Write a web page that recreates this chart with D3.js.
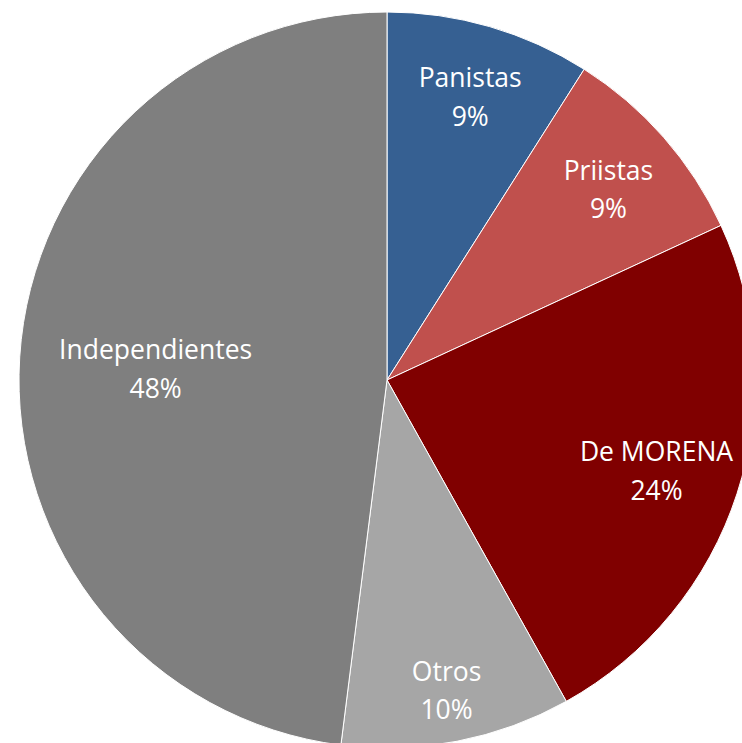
<!DOCTYPE html>
<html>
<head>
<meta charset="utf-8">
<script src="https://cdn.jsdelivr.net/npm/d3@7"></script>
<style>
  html, body { margin: 0; padding: 0; background: #fff; }
  svg { display: block; }
</style>
</head>
<body>
<div id="chart"></div>
<script>
// Data
const categories = ["Panistas", "Priistas", "De MORENA", "Otros", "Independientes"];
const values = [9.0, 9.1, 23.8, 10.1, 48.0];
const labels = ["9%", "9%", "24%", "10%", "48%"];
const colors = ["#366092", "#C0504D", "#800000", "#A6A6A6", "#7F7F7F"];

const width = 742;
const height = 743;
const cx = 387, cy = 380, radius = 368;

// label distance from centre, as share of the radius (Excel "best fit")
const labelRatio = [0.81, 0.80, 0.77, 0.85, 0.63];

const data = categories.map((c, i) => ({ name: c, value: values[i], label: labels[i], color: colors[i], lr: labelRatio[i] }));

const svg = d3.select("#chart").append("svg")
    .attr("width", width)
    .attr("height", height);

const g = svg.append("g").attr("transform", `translate(${cx},${cy})`);

const pie = d3.pie().value(d => d.value).sort(null);
const arc = d3.arc().innerRadius(0).outerRadius(radius);

const arcs = pie(data);

g.selectAll("path")
    .data(arcs)
    .enter()
    .append("path")
    .attr("d", arc)
    .attr("fill", d => d.data.color)
    .attr("stroke", "#fff")
    .attr("stroke-width", 1);

// Labels
const lab = g.selectAll("text")
    .data(arcs)
    .enter()
    .append("text")
    .attr("text-anchor", "middle")
    .attr("fill", "#fff")
    .style("font-family", "'Open Sans', 'Noto Sans', sans-serif")
    .style("font-size", "26.5px")
    .attr("transform", d => {
        const a = (d.startAngle + d.endAngle) / 2;
        const r = radius * d.data.lr;
        return `translate(${r * Math.sin(a)},${-r * Math.cos(a)})`;
    });

lab.append("tspan")
    .attr("x", 0)
    .attr("dy", "-0.24em")
    .text(d => d.data.name);

lab.append("tspan")
    .attr("x", 0)
    .attr("dy", "1.45em")
    .text(d => d.data.label);
</script>
</body>
</html>
